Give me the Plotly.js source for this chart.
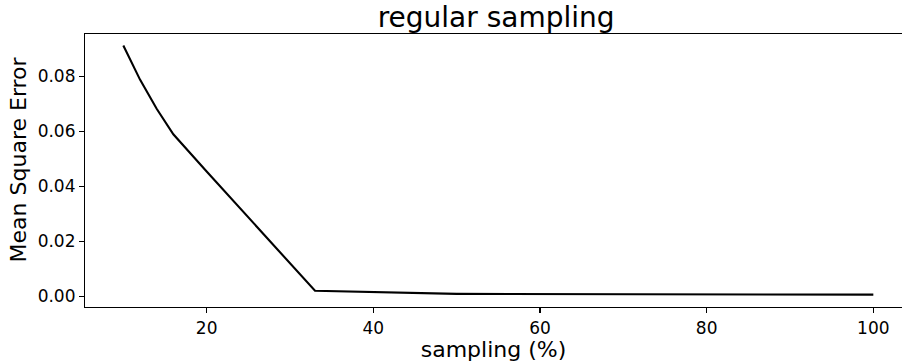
<!DOCTYPE html>
<html>
<head>
<meta charset="utf-8">
<script src="https://cdn.plot.ly/plotly-3.0.1.min.js"></script>
<style>html,body{margin:0;padding:0;background:#fff;}#chart{width:902px;height:362px;}</style>
</head>
<body>
<div id="chart"></div>
<script>
// sampling percentage and mean square error
const samplingPct = [10, 11, 12, 14, 16, 20, 25, 33, 50, 100];
const meanSquareError = [0.0912, 0.0848, 0.0788, 0.0682, 0.0589, 0.0454, 0.0286, 0.0020, 0.0009, 0.0006];
const xTickVals = [20, 40, 60, 80, 100];
const yTickVals = [0.00, 0.02, 0.04, 0.06, 0.08];
const yTickText = ["0.00", "0.02", "0.04", "0.06", "0.08"];

const font = "DejaVu Sans, sans-serif";

const trace = {
  x: samplingPct,
  y: meanSquareError,
  type: "scatter",
  mode: "lines",
  line: {color: "#000000", width: 2.1},
  hoverinfo: "skip"
};

const layout = {
  width: 902,
  height: 362,
  margin: {l: 85, r: 0, t: 34, b: 55, pad: 0},
  paper_bgcolor: "#ffffff",
  plot_bgcolor: "#ffffff",
  showlegend: false,
  font: {family: font, color: "#000000"},
  title: {
    text: "regular sampling",
    font: {family: font, size: 28, color: "#000000"},
    xref: "container", x: 0.55, xanchor: "center",
    yref: "container", y: 0.952, yanchor: "middle"
  },
  xaxis: {
    range: [5.4, 103.44],
    tickvals: xTickVals,
    ticks: "outside", ticklen: 5, tickwidth: 1.1, tickcolor: "#000",
    showline: true, linecolor: "#000", linewidth: 1.1, mirror: true,
    showgrid: false, zeroline: false,
    tickfont: {family: font, size: 17, color: "#000"},
    title: {text: "sampling (%)", font: {family: font, size: 22, color: "#000"}, standoff: 4}
  },
  yaxis: {
    range: [-0.00389, 0.09538],
    tickvals: yTickVals,
    ticktext: yTickText,
    ticks: "outside", ticklen: 5, tickwidth: 1.1, tickcolor: "#000",
    showline: true, linecolor: "#000", linewidth: 1.1, mirror: false,
    showgrid: false, zeroline: false,
    tickfont: {family: font, size: 17, color: "#000"}
  },
  annotations: [{
    text: "Mean Square Error",
    textangle: -90,
    xref: "paper", yref: "paper",
    x: -0.081, y: 0.54,
    xanchor: "center", yanchor: "middle",
    showarrow: false,
    font: {family: font, size: 22, color: "#000"}
  }]
};

Plotly.newPlot("chart", [trace], layout, {displayModeBar: false, staticPlot: true});
</script>
</body>
</html>
